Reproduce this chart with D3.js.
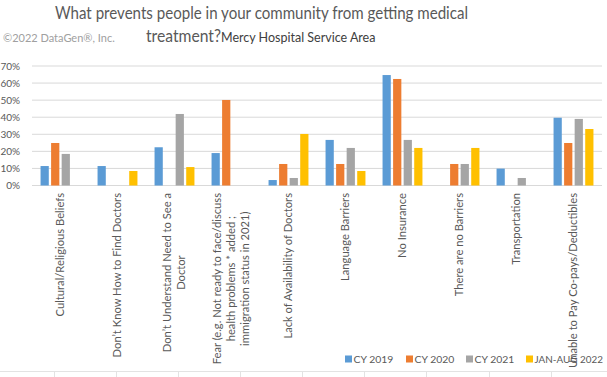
<!DOCTYPE html>
<html>
<head>
<meta charset="utf-8">
<script src="https://cdn.jsdelivr.net/npm/d3@7"></script>
<style>
  body { margin: 0; background: #fff; }
  svg { display: block; font-family: Lato, "Open Sans", sans-serif; }
</style>
</head>
<body>
<div id="chart"></div>
<script>
// categories (x labels, wrapped lines)
const categories = [
    ['Cultural/Religious Beliefs'],
    ['Don\u2019t Know How to Find Doctors'],
    ['Don\u2019t Understand Need to See a', 'Doctor'],
    ['Fear (e.g. Not ready to face/discuss', 'health problems * added ;', 'immigration status in 2021)'],
    ['Lack of Availability of Doctors'],
    ['Language Barriers'],
    ['No Insurance'],
    ['There are no Barriers'],
    ['Transportation'],
    ['Unable to Pay Co-pays/Deductibles']
];
const seriesNames = ['CY 2019', 'CY 2020', 'CY 2021', 'JAN-AUG 2022'];
const seriesColors = ['#5b9bd5', '#ed7d31', '#a5a5a5', '#ffc000'];

// percent values, null = no bar
const cy2019 = [11.4, 11.4, 22.4, 19.0, 3.2, 26.7, 64.7, null, 9.9, 39.7];
const cy2020 = [24.9, null, null, 50.1, 12.6, 12.6, 62.4, 12.6, null, 24.9];
const cy2021 = [18.5, null, 41.9, null, 4.4, 22.0, 26.7, 12.6, 4.4, 39.0];
const jan2022 = [null, 8.5, 10.8, null, 30.2, 8.5, 22.0, 22.0, null, 33.1];

const yTicks = [0, 10, 20, 30, 40, 50, 60, 70];

const width = 607, height = 377;
const margin = {top: 66, right: 5, bottom: 191.5, left: 32};

const svg = d3.select('#chart').append('svg')
    .attr('width', width)
    .attr('height', height);

const seriesValues = [cy2019, cy2020, cy2021, jan2022];
const catIds = categories.map((c, i) => i);

// scales
const x0 = d3.scaleBand()
    .domain(catIds)
    .range([margin.left, width - margin.right])
    .paddingInner(0.3)
    .paddingOuter(0.15);

const x1 = d3.scaleBand()
    .domain(seriesNames)
    .range([0, x0.bandwidth()])
    .paddingInner(0.22);

const y = d3.scaleLinear()
    .domain([0, 70])
    .range([height - margin.bottom, margin.top]);

// Grid lines
svg.append('g')
    .selectAll('line')
    .data(yTicks)
    .enter()
    .append('line')
    .attr('x1', margin.left)
    .attr('x2', width - margin.right)
    .attr('y1', d => y(d))
    .attr('y2', d => y(d))
    .attr('stroke', '#d9d9d9')
    .attr('stroke-width', 1);

// Y axis labels
svg.append('g')
    .attr('transform', `translate(${margin.left},0)`)
    .call(d3.axisLeft(y).tickValues(yTicks).tickSize(0).tickPadding(12).tickFormat(d => d + '%'))
    .call(g => g.select('.domain').remove())
    .call(g => g.selectAll('text')
        .attr('font-size', '10px')
        .attr('font-family', 'Lato, sans-serif')
        .attr('fill', '#595959'));

// Bars
const groups = svg.append('g')
    .selectAll('g')
    .data(seriesNames)
    .enter()
    .append('g')
    .attr('fill', (d, i) => seriesColors[i]);

groups.selectAll('rect')
    .data((s, si) => seriesValues[si].map((v, ci) => ({series: s, cat: ci, value: v})).filter(d => d.value != null))
    .enter()
    .append('rect')
    .attr('x', d => x0(d.cat) + x1(d.series))
    .attr('y', d => y(d.value))
    .attr('width', x1.bandwidth())
    .attr('height', d => y(0) - y(d.value));

// X labels (rotated, wrapped lines centred on longest line)
const labelTop = y(0) + 7.5;
const lineGap = 14;
categories.forEach((lines, ci) => {
    const cx = x0(ci) + x0.bandwidth() / 2 - 0.5;
    const g = svg.append('g')
        .attr('transform', `translate(${cx},${labelTop}) rotate(-90)`);
    const texts = lines.map((ln, li) => g.append('text')
        .attr('font-size', '11.2px')
        .attr('fill', '#595959')
        .attr('text-anchor', 'middle')
        .attr('dy', '0.35em')
        .attr('y', (li - (lines.length - 1) / 2) * lineGap)
        .text(ln));
    const maxLen = d3.max(texts, t => t.node().getComputedTextLength());
    texts.forEach(t => t.attr('x', -maxLen / 2));
});

// Title
svg.append('text')
    .attr('x', 55)
    .attr('y', 18.5)
    .attr('font-size', '17px')
    .attr('fill', '#595959')
    .attr('textLength', 413)
    .attr('lengthAdjust', 'spacingAndGlyphs')
    .text('What prevents people in your community from getting medical');

const title2 = svg.append('text')
    .attr('x', 146)
    .attr('y', 41.5)
    .attr('fill', '#595959');
title2.append('tspan').attr('font-size', '17px')
    .attr('textLength', 75).attr('lengthAdjust', 'spacingAndGlyphs')
    .text('treatment?');
title2.append('tspan').attr('font-size', '12.5px').attr('fill', '#404040').text('Mercy Hospital Service Area');

// Copyright
svg.append('text')
    .attr('x', 3)
    .attr('y', 42)
    .attr('font-size', '11px')
    .attr('fill', '#a0a0a0')
    .text('\u00a92022 DataGen\u00ae, Inc.');

// Legend
const legendX = [345, 406, 466, 526];
const legend = svg.append('g')
    .selectAll('g')
    .data(seriesNames)
    .enter()
    .append('g')
    .attr('transform', (d, i) => `translate(${legendX[i]},359)`);

legend.append('rect')
    .attr('x', 0)
    .attr('y', -3.5)
    .attr('width', 7)
    .attr('height', 7)
    .attr('fill', (d, i) => seriesColors[i]);

legend.append('text')
    .attr('x', 8.5)
    .attr('dy', '0.35em')
    .attr('font-size', '10.4px')
    .attr('fill', '#595959')
    .text(d => d)
    .each(function(d, i) {
        // keep the last entry inside the right edge
        const room = width - 4 - legendX[i] - 8.5;
        if (this.getComputedTextLength() > room) {
            d3.select(this).attr('textLength', room).attr('lengthAdjust', 'spacingAndGlyphs');
        }
    });

// worksheet cell borders peeking in at the bottom
const sheetCols = [54, 116, 178, 240, 302, 364, 426, 489, 551];
svg.append('line')
    .attr('x1', 0).attr('x2', width)
    .attr('y1', 371.5).attr('y2', 371.5)
    .attr('stroke', '#e3e3e3');
svg.append('g')
    .selectAll('line')
    .data(sheetCols)
    .enter()
    .append('line')
    .attr('x1', d => d + 0.5).attr('x2', d => d + 0.5)
    .attr('y1', 371.5).attr('y2', height)
    .attr('stroke', '#e3e3e3');
</script>
</body>
</html>
